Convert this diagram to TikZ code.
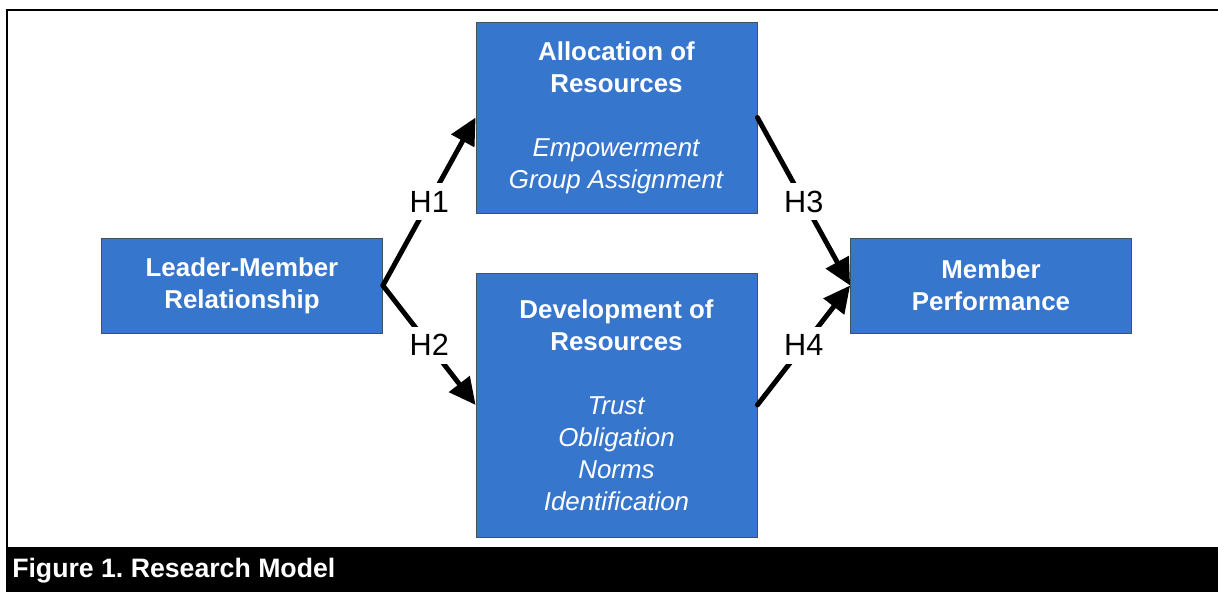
\documentclass[tikz,border=0pt]{standalone}
\usepackage{fontspec}
\setmainfont{Liberation Sans}
\usetikzlibrary{arrows.meta}
\definecolor{boxblue}{RGB}{54,118,205}
\definecolor{boxedge}{RGB}{70,80,95}

\begin{document}
\begin{tikzpicture}[x=0.75pt,y=-0.75pt,
	model/.style={draw=boxedge,line width=0.6pt,fill=boxblue,text=white,align=center,minimum width=210.75pt,inner sep=0pt,font=\fontsize{19.4}{24}\selectfont},
	hyp/.style={-{Triangle[length=20pt,width=19pt]},line width=3.7pt,line cap=round},
	hlabel/.style={fill=white,inner xsep=2pt,inner ysep=6pt,font=\fontsize{23}{24}\selectfont}]
	\useasboundingbox (0,0) rectangle (1218,592);
	% frame and caption bar
	\draw[line width=1.5pt] (7,592) -- (7,10) -- (1218,10);
	\fill (6,547) rectangle (1218,592);
	\node[anchor=base west,text=white,inner sep=0pt,font=\bfseries\fontsize{20}{22}\selectfont] (cap) at (12,577) {Figure 1.\ Research Model};

	% the four constructs
	\node[model,minimum height=71.25pt] (lmr) at (242,285.5) {\textbf{Leader-Member}\\\textbf{Relationship}};
	\node[model,minimum height=143.25pt] (alloc) at (616.5,117.5) {\textbf{Allocation of}\\\textbf{Resources}\\[24pt]
		\textit{Empowerment}\\\textit{Group Assignment}};
	\node[model,minimum height=198pt] (dev) at (616.5,405) {\textbf{Development of}\\\textbf{Resources}\\[24pt]
		\textit{Trust}\\\textit{Obligation}\\\textit{Norms}\\\textit{Identification}};
	\node[model,minimum height=71.25pt] (perf) at (991,285.5) {\textbf{Member}\\\textbf{Performance}};

	% hypotheses
	\draw[hyp] (lmr.east) -- node[hlabel] {H1} (alloc.west);
	\draw[hyp] (lmr.east) -- node[hlabel] {H2} (dev.west);
	\draw[hyp] (alloc.east) -- node[hlabel] {H3} (perf.west);
	\draw[hyp] (dev.east) -- node[hlabel] {H4} (perf.west);
\end{tikzpicture}
\end{document}
